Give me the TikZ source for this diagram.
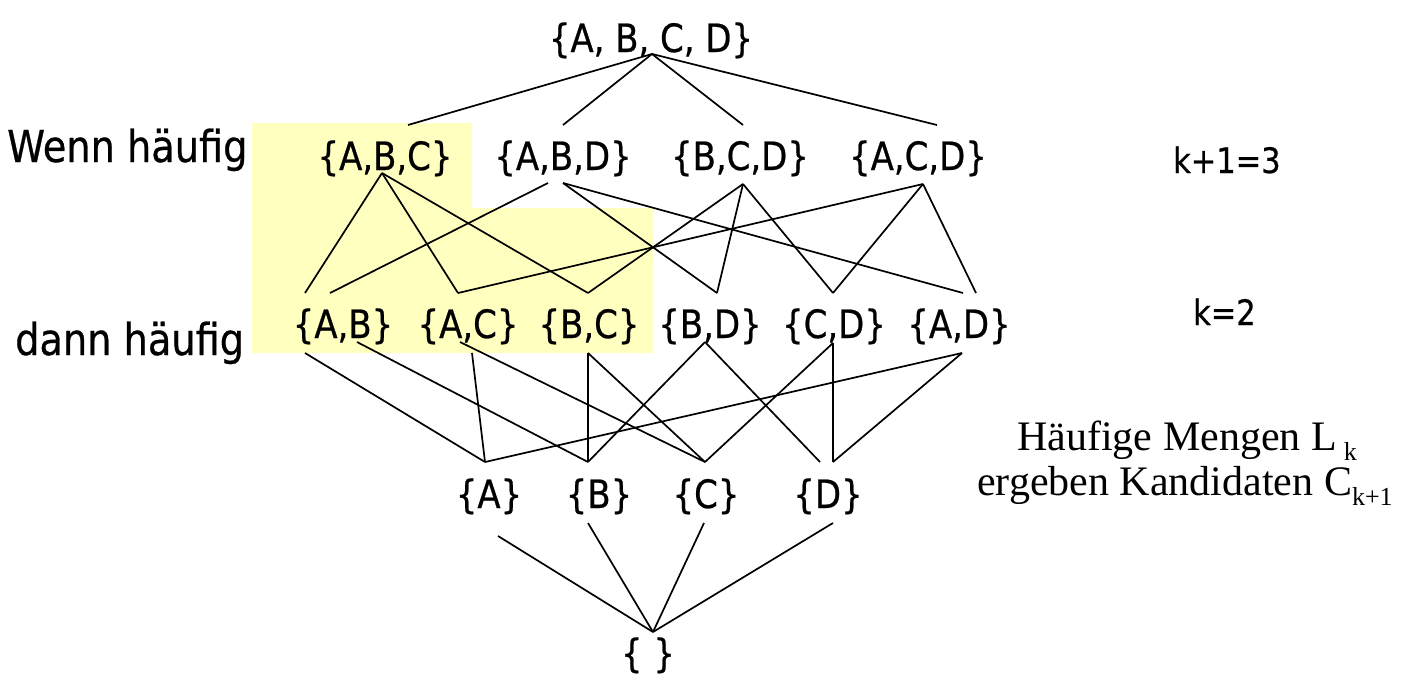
\documentclass[tikz,border=0pt]{standalone}
\usepackage{fontspec}
\setmainfont{DejaVu Sans}[FakeStretch=0.87,FakeBold=0.6]
\newfontfamily\serifok{Liberation Serif}
\usetikzlibrary{calc}
\definecolor{hl}{RGB}{255,255,192}
\newcommand\lowsub[1]{\raisebox{-0.25em}{\fontsize{26}{26}\selectfont #1}}
\begin{document}
\begin{tikzpicture}[x=1pt,y=-1pt,
  set/.style={inner sep=0pt, anchor=base, font=\fontsize{39}{44}\selectfont},
  lab/.style={inner sep=0pt, anchor=base west, font=\fontsize{44}{50}\selectfont},
  klab/.style={inner sep=0pt, anchor=base west, font=\fontsize{35}{40}\selectfont},
  note/.style={inner sep=0pt, anchor=base, font=\serifok\fontsize{42}{48}\selectfont},
  edge/.style={line width=1.7pt, black}]
\useasboundingbox (0,0) rectangle (1411,675);
\fill[hl] (252,123) -- (472,123) -- (472,208) -- (653,208) -- (653,353) -- (252,353) -- cycle;
% nodes
\node[set] (top) at (651,52) {\{A, B, C, D\}};
\node[set] (abc) at (385,170) {\{A,B,C\}};
\node[set] (abd) at (563,170) {\{A,B,D\}};
\node[set] (bcd) at (740,170) {\{B,C,D\}};
\node[set] (acd) at (918,170) {\{A,C,D\}};
\node[set] (ab) at (343,338) {\{A,B\}};
\node[set] (ac) at (468,338) {\{A,C\}};
\node[set] (bc) at (589,338) {\{B,C\}};
\node[set] (bd) at (710,338) {\{B,D\}};
\node[set] (cd) at (834,338) {\{C,D\}};
\node[set] (ad) at (959,338) {\{A,D\}};
\node[set] (a) at (489,508) {\{A\}};
\node[set] (b) at (599,508) {\{B\}};
\node[set] (c) at (706,508) {\{C\}};
\node[set] (d) at (828,508) {\{D\}};
\node[set] (e) at (648,667) {\{ \}};
\node[lab] (wenn) at (7,162) {Wenn häufig};
\node[lab] (dann) at (15,355) {dann häufig};
\node[klab] (k3) at (1173,173) {k+1=3};
\node[klab] (k2) at (1193,325) {k=2};
\node[note] (n1) at (1187,450) {Häufige Mengen L\,\lowsub{k}};
\node[note] (n2) at (1185,495) {ergeben Kandidaten C\lowsub{k+1}};
% top to level 3
\draw[edge] ($(top.base)+(1,2)$) -- ($(abc.base)+(23,-45)$);
\draw[edge] ($(top.base)+(1,2)$) -- ($(abd.base)+(0,-45)$);
\draw[edge] ($(top.base)+(1,2)$) -- ($(bcd.base)+(3,-45)$);
\draw[edge] ($(top.base)+(1,2)$) -- ($(acd.base)+(19,-45)$);
% level 3 to level 2
\draw[edge] ($(abc.base)+(-3,3)$) -- ($(ab.base)+(-38,-45)$);
\draw[edge] ($(abc.base)+(-3,3)$) -- ($(ac.base)+(-10,-45)$);
\draw[edge] ($(abc.base)+(-3,3)$) -- ($(bc.base)+(-1,-45)$);
\draw[edge] ($(abd.base)+(-15,13)$) -- ($(ab.base)+(-13,-45)$);
\draw[edge] ($(abd.base)+(0,13)$) -- ($(bd.base)+(7,-45)$);
\draw[edge] ($(abd.base)+(0,13)$) -- ($(ad.base)+(4,-45)$);
\draw[edge] ($(bcd.base)+(3,14)$) -- ($(bc.base)+(-1,-45)$);
\draw[edge] ($(bcd.base)+(3,14)$) -- ($(bd.base)+(7,-45)$);
\draw[edge] ($(bcd.base)+(3,14)$) -- ($(cd.base)+(-1,-45)$);
\draw[edge] ($(acd.base)+(5,14)$) -- ($(ac.base)+(-10,-45)$);
\draw[edge] ($(acd.base)+(5,14)$) -- ($(cd.base)+(-1,-45)$);
\draw[edge] ($(acd.base)+(5,14)$) -- ($(ad.base)+(17,-45)$);
% level 2 to level 1
\draw[edge] ($(ab.base)+(-38,15)$) -- ($(a.base)+(-4,-46)$);
\draw[edge] ($(ab.base)+(14,4)$) -- ($(b.base)+(-11,-46)$);
\draw[edge] ($(ac.base)+(4,15)$) -- ($(a.base)+(-4,-46)$);
\draw[edge] ($(ac.base)+(-8,4)$) -- ($(c.base)+(-1,-46)$);
\draw[edge] ($(bc.base)+(-1,15)$) -- ($(b.base)+(-11,-46)$);
\draw[edge] ($(bc.base)+(-1,15)$) -- ($(c.base)+(-1,-46)$);
\draw[edge] ($(bd.base)+(-5,4)$) -- ($(b.base)+(-11,-46)$);
\draw[edge] ($(bd.base)+(-5,4)$) -- ($(d.base)+(-8,-46)$);
\draw[edge] ($(cd.base)+(-1,5)$) -- ($(c.base)+(-1,-46)$);
\draw[edge] ($(cd.base)+(-1,5)$) -- ($(d.base)+(5,-46)$);
\draw[edge] ($(ad.base)+(3,15)$) -- ($(a.base)+(-4,-46)$);
\draw[edge] ($(ad.base)+(3,15)$) -- ($(d.base)+(5,-46)$);
% level 1 to empty set
\draw[edge] ($(a.base)+(9,28)$) -- ($(e.base)+(5,-35)$);
\draw[edge] ($(b.base)+(-11,15)$) -- ($(e.base)+(5,-35)$);
\draw[edge] ($(c.base)+(-2,15)$) -- ($(e.base)+(5,-35)$);
\draw[edge] ($(d.base)+(5,15)$) -- ($(e.base)+(5,-35)$);
\end{tikzpicture}
\end{document}
